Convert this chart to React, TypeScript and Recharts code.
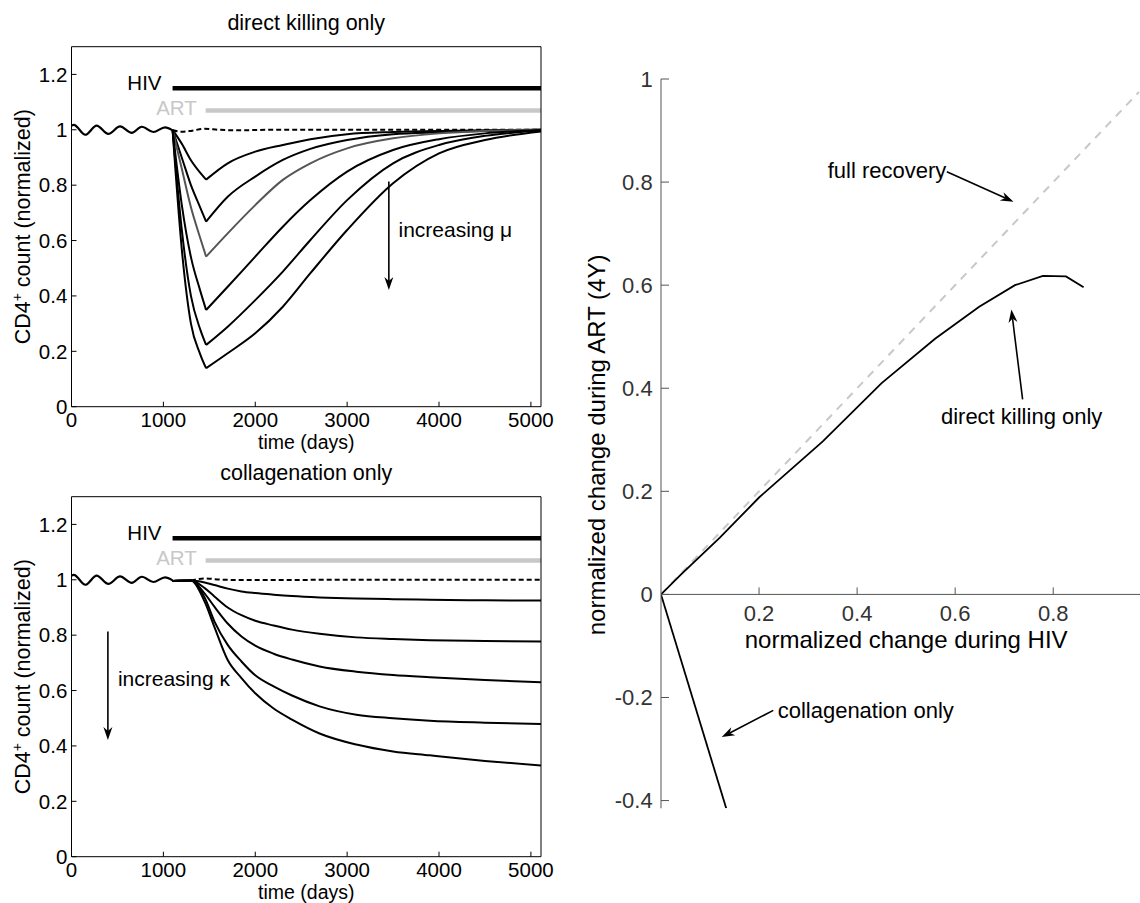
import React from "react";
import { LineChart, Line, XAxis, YAxis, ReferenceLine, ReferenceDot } from "recharts";

const FONT = '"Liberation Sans", Arial, Helvetica, sans-serif';

// ---- left panels: CD4 count over time ----
const timeTicks = [0, 1000, 2000, 3000, 4000, 5000];
const countTicks = [0, 0.2, 0.4, 0.6, 0.8, 1, 1.2];

// damped oscillation before infection (same in both panels)
const preHivT = [0, 25, 150, 274, 401, 528, 656, 765, 891, 1018, 1100];
const preHivV = [1.015, 1.018, 0.982, 1.015, 0.985, 1.012, 0.989, 1.011, 0.992, 1.009, 0.998];

// treatment bars
const hivT = [1100, 5110];
const hivV = [1.15, 1.15];
const artT = [1460, 5110];
const artV = [1.07, 1.07];

// direct killing only, one row per mu value
const killT = [1100, 1200, 1300, 1400, 1465, 1700, 2000, 2300, 2600, 3000, 3500, 4000, 4500, 5110];
const kill1 = [1.0, 0.95, 0.89, 0.845, 0.82, 0.879, 0.921, 0.945, 0.966, 0.984, 0.992, 0.996, 0.998, 1.0];
const kill2 = [1.0, 0.9, 0.8, 0.72, 0.668, 0.758, 0.831, 0.891, 0.931, 0.963, 0.984, 0.991, 0.996, 1.0];
const kill3 = [1.0, 0.86, 0.72, 0.61, 0.542, 0.626, 0.728, 0.819, 0.879, 0.933, 0.969, 0.987, 0.996, 1.0];
const kill4 = [1.0, 0.73, 0.54, 0.42, 0.349, 0.433, 0.542, 0.65, 0.746, 0.849, 0.927, 0.966, 0.987, 0.999];
const kill5 = [1.0, 0.64, 0.4, 0.28, 0.223, 0.289, 0.385, 0.488, 0.602, 0.746, 0.879, 0.945, 0.978, 0.997];
const kill6 = [1.0, 0.57, 0.3, 0.19, 0.139, 0.193, 0.265, 0.361, 0.482, 0.638, 0.807, 0.915, 0.963, 0.994];
const killCtrlT = [1100, 1200, 1300, 1450, 1600, 1800, 2200, 3000, 4000, 5110];
const killCtrlV = [0.998, 0.993, 0.996, 1.004, 1.0, 0.998, 1.0, 1.0, 1.0, 1.0];

// collagenation only, one row per kappa value
const colT = [1100, 1300, 1450, 1555, 1700, 1850, 2000, 2200, 2400, 2700, 3100, 3500, 3900, 4500, 5110];
const col1 = [0.996, 0.997, 0.99, 0.981, 0.968, 0.958, 0.952, 0.946, 0.941, 0.936, 0.932, 0.93, 0.928, 0.926, 0.925];
const col2 = [0.996, 0.997, 0.97, 0.94, 0.9, 0.872, 0.852, 0.835, 0.82, 0.805, 0.792, 0.786, 0.782, 0.779, 0.777];
const col3 = [0.996, 0.997, 0.95, 0.903, 0.842, 0.795, 0.762, 0.733, 0.712, 0.687, 0.668, 0.656, 0.648, 0.638, 0.63];
const col4 = [0.996, 0.997, 0.935, 0.85, 0.765, 0.705, 0.655, 0.615, 0.582, 0.543, 0.513, 0.5, 0.491, 0.484, 0.479];
const col5 = [0.996, 0.997, 0.92, 0.83, 0.71, 0.645, 0.59, 0.535, 0.495, 0.445, 0.405, 0.38, 0.366, 0.346, 0.329];
const colCtrlT = [1300, 1450, 1650, 2000, 3000, 5110];
const colCtrlV = [0.997, 1.005, 1.0, 0.999, 1.0, 1.0];

// ---- right panel: change during ART vs change during HIV ----
const changeTicksY = [-0.4, -0.2, 0, 0.2, 0.4, 0.6, 0.8, 1];
const changeTicksX = [0.2, 0.4, 0.6, 0.8];
const recoveryX = [0, 0.975];
const recoveryY = [0, 0.975];
const killX = [0, 0.04, 0.12, 0.2, 0.33, 0.45, 0.559, 0.649, 0.722, 0.779, 0.826, 0.862];
const killY = [0, 0.038, 0.11, 0.188, 0.297, 0.41, 0.496, 0.558, 0.6, 0.618, 0.617, 0.596];
const colX = [0, 0.133];
const colY = [0, -0.415];

const rows = (xs: number[], ys: number[]) => xs.map((x, i) => ({ x, y: ys[i] }));

const arrowShape = (p: any) => {
  const { x1, y1, x2, y2 } = p;
  const a = Math.atan2(y2 - y1, x2 - x1);
  const ux = Math.cos(a);
  const uy = Math.sin(a);
  const L = 13, W = 4.5, N = 9;
  const bx = x2 - ux * L, by = y2 - uy * L;
  const nx = x2 - ux * N, ny = y2 - uy * N;
  const pts = `${x2},${y2} ${bx - uy * W},${by + ux * W} ${nx},${ny} ${bx + uy * W},${by - ux * W}`;
  return (
    <g>
      <line x1={x1} y1={y1} x2={nx} y2={ny} stroke="#000" strokeWidth={1.6} />
      <polygon points={pts} fill="#000" />
    </g>
  );
};

const arrow = (key: string, from: [number, number], to: [number, number]) => (
  <ReferenceLine
    key={key}
    segment={[{ x: from[0], y: from[1] }, { x: to[0], y: to[1] }]}
    shape={arrowShape}
  />
);

type NoteOpts = { anchor?: string; size?: number; fill?: string; rotate?: boolean };

const note = (key: string, x: number, y: number, content: React.ReactNode, o: NoteOpts = {}) => (
  <ReferenceDot
    key={key}
    x={x}
    y={y}
    ifOverflow="visible"
    shape={(p: any) => (
      <text
        x={p.cx}
        y={p.cy}
        textAnchor={o.anchor || "start"}
        fontSize={o.size || 21}
        fill={o.fill || "#000"}
        fontFamily={FONT}
        transform={o.rotate ? `rotate(-90 ${p.cx} ${p.cy})` : undefined}
      >
        {content}
      </text>
    )}
  />
);

type PanelProps = {
  title: string;
  curveT: number[];
  curves: number[][];
  split?: number;
  grayIndex?: number;
  ctrlT: number[];
  ctrlV: number[];
  noteText: string;
  noteAt: [number, number];
  arrowT: number;
};

function TimePanel({ title, curveT, curves, split, grayIndex, ctrlT, ctrlV, noteText, noteAt, arrowT }: PanelProps) {
  const tickStyle = { fontSize: 20.5, fill: "#000", fontFamily: FONT };
  const series: React.ReactNode[] = [];
  curves.forEach((vs, i) => {
    const r = rows(curveT, vs);
    // the minimum (start of ART) is a sharp corner, so draw the two sides separately
    const parts = split !== undefined ? [r.slice(0, split + 1), r.slice(split)] : [r];
    parts.forEach((d, j) =>
      series.push(
        <Line
          key={`c${i}-${j}`}
          data={d}
          dataKey="y"
          type="monotone"
          stroke={i === grayIndex ? "#555" : "#000"}
          strokeWidth={2}
          dot={false}
          isAnimationActive={false}
        />
      )
    );
  });
  return (
    <LineChart width={560} height={460} margin={{ top: 36.7, left: 21.5, right: 9, bottom: 23.3 }}>
      <XAxis dataKey="x" type="number" domain={[0, 5110]} ticks={timeTicks} interval={0} allowDataOverflow
        height={30} tickSize={-5} tickMargin={10.55} stroke="#000" tick={tickStyle} />
      <XAxis xAxisId="top" orientation="top" dataKey="x" type="number" domain={[0, 5110]} ticks={timeTicks}
        interval={0} allowDataOverflow height={10} tickSize={-5} stroke="#000" tick={false} />
      <YAxis type="number" domain={[0, 1.3]} ticks={countTicks} interval={0} allowDataOverflow
        width={50} tickSize={-5} tickMargin={9.2} stroke="#000" tick={tickStyle} />
      <YAxis yAxisId="right" orientation="right" type="number" domain={[0, 1.3]} ticks={countTicks}
        interval={0} allowDataOverflow width={10} tickSize={-5} stroke="#000" tick={false} />

      <Line data={rows(hivT, hivV)} dataKey="y" type="linear" stroke="#000" strokeWidth={4.5} dot={false} isAnimationActive={false} />
      <Line data={rows(artT, artV)} dataKey="y" type="linear" stroke="#c8c8c8" strokeWidth={4.5} dot={false} isAnimationActive={false} />
      <Line data={rows(preHivT, preHivV)} dataKey="y" type="monotone" stroke="#000" strokeWidth={2.2} dot={false} isAnimationActive={false} />
      <Line data={rows(ctrlT, ctrlV)} dataKey="y" type="monotone" stroke="#000" strokeWidth={2} strokeDasharray="5 3" dot={false} isAnimationActive={false} />
      {series}

      {note("title", 2555, 1.36, title, { anchor: "middle", size: 21.5 })}
      {note("xl", 2555, -0.152, "time (days)", { anchor: "middle", size: 19.5 })}
      {note("yl", -452, 0.65, (
        <>
          CD4<tspan dy={-8} fontSize={14}>+</tspan>
          <tspan dy={8}> count (normalized)</tspan>
        </>
      ), { anchor: "middle", size: 21.5, rotate: true })}
      {note("hiv", 980, 1.143, "HIV", { anchor: "end", size: 20.5 })}
      {note("art", 1364, 1.055, "ART", { anchor: "end", size: 20.5, fill: "#c8c8c8" })}
      {note("inc", noteAt[0], noteAt[1], noteText, { size: 21 })}
      {arrow("inc-a", [arrowT, 0.813], [arrowT, 0.421])}
    </LineChart>
  );
}

function ChangePanel() {
  return (
    <LineChart width={580} height={903} margin={{ top: 79, right: 0, bottom: 94.7, left: 41 }}>
      <XAxis dataKey="x" type="number" domain={[0, 0.977]} allowDataOverflow hide />
      <YAxis type="number" domain={[-0.415, 1]} ticks={changeTicksY} interval={0} allowDataOverflow
        width={60} tickSize={-8} tickMargin={16.3} stroke="#555"
        tick={{ fontSize: 22, fill: "#333", fontFamily: FONT }} />
      <ReferenceLine y={0} stroke="#555" strokeWidth={1} />
      {changeTicksX.map((v) => (
        <ReferenceDot
          key={`xt${v}`}
          x={v}
          y={0}
          shape={(p: any) => (
            <g>
              <line x1={p.cx} y1={p.cy} x2={p.cx} y2={p.cy - 7} stroke="#555" strokeWidth={1} />
              <text x={p.cx} y={p.cy + 26.3} textAnchor="middle" fontSize={22} fill="#333" fontFamily={FONT}>
                {v}
              </text>
            </g>
          )}
        />
      ))}

      <Line data={rows(recoveryX, recoveryY)} dataKey="y" type="linear" stroke="#c8c8c8" strokeWidth={2}
        strokeDasharray="8 7" dot={false} isAnimationActive={false} />
      <Line data={rows(killX, killY)} dataKey="y" type="linear" stroke="#000" strokeWidth={1.8} dot={false} isAnimationActive={false} />
      <Line data={rows(colX, colY)} dataKey="y" type="linear" stroke="#000" strokeWidth={1.8} dot={false} isAnimationActive={false} />

      {note("fr", 0.582, 0.807, "full recovery", { anchor: "end", size: 22 })}
      {arrow("fr-a", [0.583, 0.82], [0.719, 0.762])}
      {note("dk", 0.571, 0.331, "direct killing only", { size: 22 })}
      {arrow("dk-a", [0.7376, 0.3783], [0.7147, 0.5526])}
      {note("co", 0.238, -0.2407, "collagenation only", { size: 22 })}
      {arrow("co-a", [0.229, -0.225], [0.1239, -0.2769])}
      {note("xl", 0.5, -0.1035, "normalized change during HIV", { anchor: "middle", size: 24 })}
      {note("yl", -0.114, 0.29, "normalized change during ART (4Y)", { anchor: "middle", size: 24, rotate: true })}
    </LineChart>
  );
}

export default function App() {
  return (
    <div style={{ position: "absolute", left: 0, top: 0, width: 1140, height: 903, overflow: "hidden", background: "#fff", fontFamily: FONT }}>
      <div style={{ position: "absolute", left: 0, top: 0 }}>
        <TimePanel
          title="direct killing only"
          curveT={killT}
          curves={[kill1, kill2, kill3, kill4, kill5, kill6]}
          split={4}
          grayIndex={2}
          ctrlT={killCtrlT}
          ctrlV={killCtrlV}
          noteText="increasing μ"
          noteAt={[3559, 0.613]}
          arrowT={3454}
        />
      </div>
      <div style={{ position: "absolute", left: 0, top: 450 }}>
        <TimePanel
          title="collagenation only"
          curveT={colT}
          curves={[col1, col2, col3, col4, col5]}
          ctrlT={colCtrlT}
          ctrlV={colCtrlV}
          noteText="increasing κ"
          noteAt={[505, 0.616]}
          arrowT={396}
        />
      </div>
      <div style={{ position: "absolute", left: 560, top: 0 }}>
        <ChangePanel />
      </div>
    </div>
  );
}
